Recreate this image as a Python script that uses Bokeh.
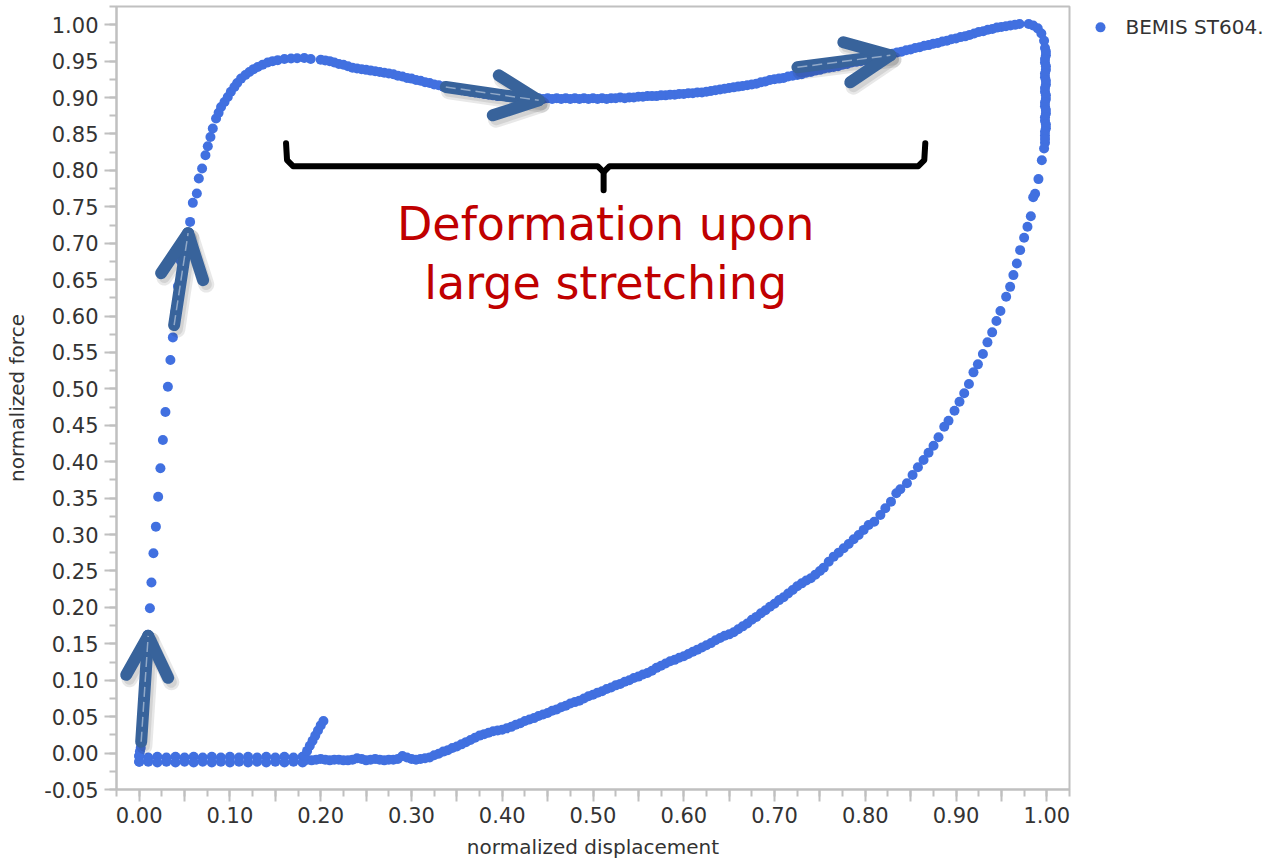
from bokeh.plotting import figure
from bokeh.layouts import row
from bokeh.models import Range1d, FixedTicker, Label, CustomJSTickFormatter
from bokeh.core.properties import value
from bokeh.embed import file_html
from bokeh.resources import INLINE

# ---- measured hysteresis loop (normalized displacement / normalized force) ----
# initial steep rise up to the force peak
rise_disp = [0.000, 0.000, 0.0008, 0.0017, 0.0033, 0.0050, 0.0066, 0.0083, 0.0096, 0.0118,
             0.0135, 0.0157, 0.0184, 0.0209, 0.0234, 0.0261, 0.0289, 0.0316, 0.0344, 0.0371,
             0.0398, 0.0427, 0.0458, 0.0517, 0.0561, 0.0591, 0.0635, 0.0657, 0.0693, 0.0730,
             0.0756, 0.0785, 0.0811, 0.0847, 0.0875, 0.0902, 0.0940, 0.0976, 0.1010, 0.1049,
             0.1080, 0.1122, 0.1170, 0.1214, 0.1260, 0.1306, 0.1360, 0.1416, 0.1470, 0.1526,
             0.1600, 0.1673, 0.1740, 0.1819, 0.1890]
rise_force = [-0.012, -0.004, 0.002, 0.0073, 0.0292, 0.0594, 0.0937, 0.128, 0.1623, 0.1989,
              0.2341, 0.2744, 0.3109, 0.3520, 0.3910, 0.4298, 0.4682, 0.5030, 0.5396, 0.5707,
              0.606, 0.641, 0.676, 0.711, 0.7293, 0.7554, 0.7683, 0.7889, 0.8026, 0.8208,
              0.8332, 0.8459, 0.8575, 0.8712, 0.879, 0.8871, 0.894, 0.9008, 0.908, 0.9145,
              0.920, 0.9260, 0.931, 0.9351, 0.939, 0.9420, 0.945, 0.9480, 0.950, 0.9512,
              0.953, 0.9535, 0.954, 0.9543, 0.953]

# plateau during large stretching
plateau_disp = [0.20, 0.21, 0.22, 0.23, 0.24, 0.25, 0.26, 0.27, 0.28, 0.29,
                0.30, 0.31, 0.32, 0.33, 0.34, 0.35, 0.36, 0.37, 0.38, 0.39,
                0.40, 0.41, 0.42, 0.43, 0.44, 0.45, 0.46, 0.47, 0.48, 0.49,
                0.50, 0.51, 0.52, 0.53, 0.54, 0.55, 0.56, 0.57, 0.58, 0.59,
                0.60, 0.61, 0.62, 0.63, 0.64, 0.65, 0.66, 0.67, 0.68, 0.69,
                0.70, 0.71, 0.72, 0.73, 0.74, 0.75, 0.76, 0.77, 0.78, 0.79,
                0.80, 0.81, 0.82, 0.83, 0.84, 0.85, 0.86, 0.87, 0.88, 0.89,
                0.90, 0.91, 0.92, 0.93, 0.94, 0.95, 0.96, 0.97, 0.98, 0.985,
                0.99, 0.994, 0.997]
plateau_force = [0.952, 0.950, 0.946, 0.943, 0.940, 0.938, 0.936, 0.934, 0.932, 0.929,
                 0.926, 0.923, 0.920, 0.917, 0.914, 0.912, 0.909, 0.907, 0.905, 0.903,
                 0.902, 0.901, 0.900, 0.899, 0.899, 0.899, 0.899, 0.899, 0.899, 0.899,
                 0.899, 0.899, 0.899, 0.900, 0.900, 0.901, 0.902, 0.902, 0.903, 0.904,
                 0.905, 0.906, 0.907, 0.909, 0.911, 0.913, 0.915, 0.917, 0.919, 0.922,
                 0.925, 0.927, 0.930, 0.932, 0.935, 0.938, 0.941, 0.943, 0.946, 0.949,
                 0.951, 0.954, 0.957, 0.960, 0.963, 0.966, 0.969, 0.972, 0.975, 0.978,
                 0.981, 0.984, 0.988, 0.991, 0.994, 0.997, 0.999, 1.001, 1.001, 0.999,
                 0.995, 0.988, 0.978]
# second, slightly lower pass of samples along the plateau
plateau_b_disp = [0.205, 0.215, 0.225, 0.235, 0.245, 0.255, 0.265, 0.275, 0.285, 0.295,
                  0.305, 0.315, 0.325, 0.335, 0.345, 0.355, 0.365, 0.375, 0.385, 0.395,
                  0.405, 0.415, 0.425, 0.435, 0.445, 0.455, 0.465, 0.475, 0.485, 0.495,
                  0.505, 0.515, 0.525, 0.535, 0.545, 0.555, 0.565, 0.575, 0.585, 0.595,
                  0.605, 0.615, 0.625, 0.635, 0.645, 0.655, 0.665, 0.675, 0.685, 0.695,
                  0.705, 0.715, 0.725, 0.735, 0.745, 0.755, 0.765, 0.775, 0.785, 0.795,
                  0.805, 0.815, 0.825, 0.835, 0.845, 0.855, 0.865, 0.875, 0.885, 0.895,
                  0.905, 0.915, 0.925, 0.935, 0.945, 0.955, 0.965]
plateau_b_force = [0.951, 0.948, 0.945, 0.941, 0.939, 0.937, 0.935, 0.933, 0.930, 0.927,
                   0.924, 0.921, 0.918, 0.915, 0.913, 0.910, 0.908, 0.906, 0.904, 0.902,
                   0.901, 0.900, 0.899, 0.898, 0.898, 0.898, 0.898, 0.898, 0.898, 0.898,
                   0.898, 0.898, 0.899, 0.899, 0.900, 0.901, 0.902, 0.903, 0.904, 0.905,
                   0.906, 0.907, 0.908, 0.910, 0.912, 0.914, 0.916, 0.918, 0.921, 0.924,
                   0.926, 0.929, 0.931, 0.934, 0.937, 0.940, 0.942, 0.945, 0.948, 0.950,
                   0.953, 0.956, 0.959, 0.962, 0.965, 0.968, 0.971, 0.974, 0.977, 0.980,
                   0.983, 0.986, 0.990, 0.993, 0.996, 0.998, 1.000]

# unloading: sharp drop at full stretch
drop_disp = [0.998, 0.999, 0.998, 0.999, 0.998, 0.999, 0.998, 0.999, 0.998, 0.999,
             0.998, 0.999, 0.998, 0.998, 0.997, 0.9945, 0.9908, 0.9871, 0.9850, 0.9824,
             0.9787, 0.9750, 0.9706, 0.9670, 0.9632, 0.9596, 0.9552]
drop_force = [0.968, 0.958, 0.948, 0.938, 0.928, 0.918, 0.908, 0.898, 0.888, 0.878,
              0.868, 0.858, 0.848, 0.838, 0.830, 0.814, 0.788, 0.768, 0.763, 0.737,
              0.7225, 0.7074, 0.6905, 0.6722, 0.6562, 0.6401, 0.6264]
drop_b_disp = [0.999, 0.998, 0.999, 0.998, 0.999, 0.998, 0.999, 0.998, 0.999, 0.998,
               0.999, 0.998, 0.998]
drop_b_force = [0.963, 0.953, 0.943, 0.933, 0.923, 0.913, 0.903, 0.893, 0.883, 0.873,
                0.863, 0.853, 0.843]

# unloading curve
return_disp = [0.9489, 0.9445, 0.9398, 0.9346, 0.9296, 0.9241, 0.9192, 0.9142, 0.9090, 0.9038,
               0.8983, 0.8917, 0.8870, 0.8807, 0.8752, 0.8697, 0.8642, 0.8580, 0.8521, 0.8459,
               0.8386, 0.8342, 0.8283, 0.8221, 0.8166, 0.8099, 0.8037, 0.7982, 0.7927, 0.7872,
               0.7817, 0.7762, 0.7707, 0.7652, 0.7597, 0.7542,
               0.75, 0.74, 0.73, 0.72, 0.71, 0.70, 0.69, 0.68, 0.67, 0.66,
               0.65, 0.64, 0.63, 0.62, 0.61, 0.60, 0.59, 0.58, 0.57, 0.56,
               0.55, 0.54, 0.53, 0.52, 0.51, 0.50, 0.49, 0.48, 0.47, 0.46,
               0.45, 0.44, 0.43, 0.42, 0.41, 0.40, 0.39, 0.38, 0.37, 0.36,
               0.35, 0.34, 0.33, 0.32, 0.31, 0.30]
return_force = [0.6069, 0.5931, 0.5776, 0.5639, 0.5478, 0.5337, 0.5227, 0.5067, 0.4939, 0.4824,
                0.4700, 0.4563, 0.4481, 0.4335, 0.4220, 0.4124, 0.4024, 0.3924, 0.3818, 0.3704,
                0.3622, 0.3567, 0.3452, 0.3361, 0.3269, 0.3177, 0.3132, 0.3064, 0.2995, 0.2936,
                0.2871, 0.2812, 0.2752, 0.2697, 0.2628, 0.2546,
                0.250, 0.240, 0.233, 0.224, 0.214, 0.205, 0.196, 0.187, 0.178, 0.170,
                0.163, 0.158, 0.151, 0.145, 0.139, 0.133, 0.128, 0.123, 0.117, 0.110,
                0.105, 0.100, 0.095, 0.090, 0.085, 0.080, 0.075, 0.070, 0.065, 0.060,
                0.055, 0.051, 0.046, 0.041, 0.036, 0.032, 0.030, 0.026, 0.021, 0.015,
                0.009, 0.004, -0.001, -0.006, -0.008, -0.008]
return_b_disp = [0.745, 0.735, 0.725, 0.715, 0.705, 0.695, 0.685, 0.675, 0.665, 0.655,
                 0.645, 0.635, 0.625, 0.615, 0.605, 0.595, 0.585, 0.575, 0.565, 0.555,
                 0.545, 0.535, 0.525, 0.515, 0.505, 0.495, 0.485, 0.475, 0.465, 0.455,
                 0.445, 0.435, 0.425, 0.415, 0.405, 0.395, 0.385, 0.375, 0.365, 0.355,
                 0.345, 0.335, 0.325, 0.315, 0.305]
return_b_force = [0.245, 0.237, 0.229, 0.219, 0.210, 0.201, 0.192, 0.183, 0.174, 0.166,
                  0.161, 0.155, 0.148, 0.142, 0.136, 0.131, 0.126, 0.120, 0.113, 0.108,
                  0.103, 0.098, 0.093, 0.088, 0.083, 0.078, 0.072, 0.068, 0.063, 0.058,
                  0.053, 0.048, 0.044, 0.039, 0.034, 0.031, 0.028, 0.024, 0.018, 0.012,
                  0.007, 0.002, -0.003, -0.007, -0.009]

# flat tail near zero force
tail_disp = [0.29, 0.28, 0.27, 0.26, 0.25, 0.24, 0.23, 0.22, 0.21, 0.20, 0.19]
tail_force = [-0.004, -0.009, -0.010, -0.008, -0.010, -0.007, -0.010, -0.009, -0.010, -0.008, -0.010]
tail_b_disp = [0.295, 0.285, 0.275, 0.265, 0.255, 0.245, 0.235, 0.225, 0.215, 0.205, 0.195, 0.185]
tail_b_force = [-0.006, -0.008, -0.009, -0.009, -0.009, -0.008, -0.009, -0.010, -0.009, -0.009,
                -0.009, -0.009]

base_disp = [0.18, 0.17, 0.16, 0.15, 0.14, 0.13, 0.12, 0.11, 0.10, 0.09,
             0.08, 0.07, 0.06, 0.05, 0.04, 0.03, 0.02, 0.01, 0.00]
base_force_upper = [-0.005, -0.006, -0.005, -0.006, -0.005, -0.006, -0.005, -0.006, -0.005, -0.006,
                    -0.005, -0.006, -0.005, -0.006, -0.005, -0.006, -0.005, -0.006, -0.004]
base_force_lower = [-0.013, -0.012, -0.013, -0.012, -0.013, -0.012, -0.013, -0.012, -0.013, -0.012,
                    -0.013, -0.012, -0.013, -0.012, -0.013, -0.012, -0.013, -0.012, -0.012]

# start of the next cycle
reload_disp = [0.182, 0.185, 0.188, 0.191, 0.194, 0.197, 0.200, 0.203]
reload_force = [-0.004, 0.003, 0.010, 0.017, 0.024, 0.031, 0.038, 0.044]

disp = (rise_disp + plateau_disp + plateau_b_disp + drop_disp + drop_b_disp
        + return_disp + return_b_disp + tail_disp + tail_b_disp + base_disp + base_disp
        + reload_disp)
force = (rise_force + plateau_force + plateau_b_force + drop_force + drop_b_force
         + return_force + return_b_force + tail_force + tail_b_force + base_force_upper
         + base_force_lower + reload_force)

series_name = "BEMIS ST604."

# ---- annotation geometry (data units) ----
arrow_tail_x = [0.0022, 0.0385, 0.3378, 0.7252]
arrow_tail_y = [0.0155, 0.5876, 0.9145, 0.9415]
arrow_tip_x = [0.0099, 0.0539, 0.4402, 0.8276]
arrow_tip_y = [0.1609, 0.7138, 0.8962, 0.9580]
wing_a_x = [-0.0143, 0.0242, 0.3962, 0.7758]
wing_a_y = [0.1074, 0.6589, 0.9305, 0.9758]
wing_b_x = [0.0319, 0.0704, 0.3896, 0.7835]
wing_b_y = [0.1033, 0.6493, 0.8756, 0.9209]

brace_left_x = [0.1618, 0.1629, 0.1695, 0.5051, 0.5117, 0.5117]
brace_left_y = [0.8373, 0.8140, 0.8057, 0.8057, 0.7975, 0.7728]
brace_right_x = [0.5117, 0.5183, 0.8584, 0.8650, 0.8661]
brace_right_y = [0.7975, 0.8057, 0.8057, 0.8140, 0.8373]

note_lines = ["Deformation upon", "large stretching"]
note_x = 0.514
note_y = [0.726, 0.645]

TEXT_FONT = "DejaVu Sans"
TEXT_COLOR = "#333333"
FRAME_COLOR = "#c0c0c0"
DOT_COLOR = "#4170e0"
ARROW_COLOR = "#38639b"

p = figure(width=1072, height=864, output_backend="svg", toolbar_location=None,
           x_range=Range1d(-0.025, 1.025), y_range=Range1d(-0.05, 1.025),
           min_border_left=116, min_border_right=3, min_border_top=6, min_border_bottom=75,
           background_fill_color="white", border_fill_color="white")
p.grid.visible = False
p.outline_line_color = FRAME_COLOR
p.outline_line_width = 2

p.xaxis.ticker = FixedTicker(ticks=[round(i * 0.05, 2) for i in range(0, 21)],
                             minor_ticks=[round(-0.025 + i * 0.025, 3) for i in range(0, 43)])
p.yaxis.ticker = FixedTicker(ticks=[round(-0.05 + i * 0.05, 2) for i in range(0, 22)],
                             minor_ticks=[round(-0.05 + i * 0.025, 3) for i in range(0, 44)])
p.xaxis.formatter = CustomJSTickFormatter(
    code="return (Math.round(tick * 100) % 10 === 0) ? tick.toFixed(2) : '';")
p.yaxis.formatter = CustomJSTickFormatter(code="return tick.toFixed(2);")

for ax in (p.xaxis[0], p.yaxis[0]):
    ax.axis_line_color = FRAME_COLOR
    ax.axis_line_width = 2
    ax.major_tick_line_color = FRAME_COLOR
    ax.major_tick_line_width = 2
    ax.minor_tick_line_color = FRAME_COLOR
    ax.minor_tick_line_width = 2
    ax.major_tick_in = 0
    ax.major_tick_out = 12
    ax.minor_tick_in = 0
    ax.minor_tick_out = 7
    ax.major_label_text_font = TEXT_FONT
    ax.major_label_text_font_size = "21px"
    ax.major_label_text_color = TEXT_COLOR
    ax.axis_label_text_font = TEXT_FONT
    ax.axis_label_text_font_size = "20px"
    ax.axis_label_text_font_style = "normal"
    ax.axis_label_text_color = TEXT_COLOR

p.xaxis.axis_label = "normalized displacement"
p.yaxis.axis_label = "normalized force"
p.xaxis.major_label_standoff = 5
p.yaxis.major_label_standoff = 6
p.xaxis.axis_label_standoff = 9
p.yaxis.axis_label_standoff = 12

p.scatter(disp, force, size=10, marker="circle", fill_color=DOT_COLOR,
          line_color=DOT_COLOR, line_width=0)

# curly brace over the plateau
p.line(brace_left_x, brace_left_y, line_color="black", line_width=6,
       line_join="round", line_cap="round")
p.line(brace_right_x, brace_right_y, line_color="black", line_width=6,
       line_join="round", line_cap="round")

# direction arrows with a soft drop shadow
sdx, sdy = 0.0035, -0.006
shaft_xs = [[a, b] for a, b in zip(arrow_tail_x, arrow_tip_x)]
shaft_ys = [[a, b] for a, b in zip(arrow_tail_y, arrow_tip_y)]
head_xs = [[a, t, b] for a, t, b in zip(wing_a_x, arrow_tip_x, wing_b_x)]
head_ys = [[a, t, b] for a, t, b in zip(wing_a_y, arrow_tip_y, wing_b_y)]
shadow_xs = [[v + sdx for v in xs] for xs in shaft_xs + head_xs]
shadow_ys = [[v + sdy for v in ys] for ys in shaft_ys + head_ys]
p.multi_line(shadow_xs, shadow_ys, line_color="#202020", line_alpha=0.10, line_width=16,
             line_cap="round", line_join="round")
p.multi_line(shadow_xs, shadow_ys, line_color="#202020", line_alpha=0.10, line_width=11,
             line_cap="round", line_join="round")
p.multi_line(shaft_xs + head_xs, shaft_ys + head_ys, line_color=ARROW_COLOR, line_width=12,
             line_cap="round", line_join="round")
p.multi_line(shaft_xs, shaft_ys, line_color="white", line_alpha=0.45, line_width=1.5,
             line_dash="10 5")

for line, yy in zip(note_lines, note_y):
    p.add_layout(Label(x=note_x, y=yy, text=line, text_align="center",
                       text_baseline="alphabetic", text_font=TEXT_FONT,
                       text_font_size="46px", text_color="#c00000"))

# series key, drawn in a narrow pixel-scaled panel to the right of the frame
key = figure(width=198, height=864, output_backend="svg", toolbar_location=None,
             x_range=Range1d(0, 198), y_range=Range1d(0, 864),
             x_axis_type=None, y_axis_type=None,
             min_border_left=0, min_border_right=0, min_border_top=0, min_border_bottom=0,
             background_fill_color="white", border_fill_color="white")
key.grid.visible = False
key.outline_line_color = None
key.scatter([28], [841], size=10, marker="circle", fill_color=DOT_COLOR,
            line_color=DOT_COLOR, line_width=0)
key.text([53], [841], text=[series_name], text_font=value(TEXT_FONT),
         text_font_size="20px", text_color=TEXT_COLOR, text_baseline="middle")

layout = row(p, key, spacing=0)
open("out.html", "w").write(file_html(layout, INLINE))
